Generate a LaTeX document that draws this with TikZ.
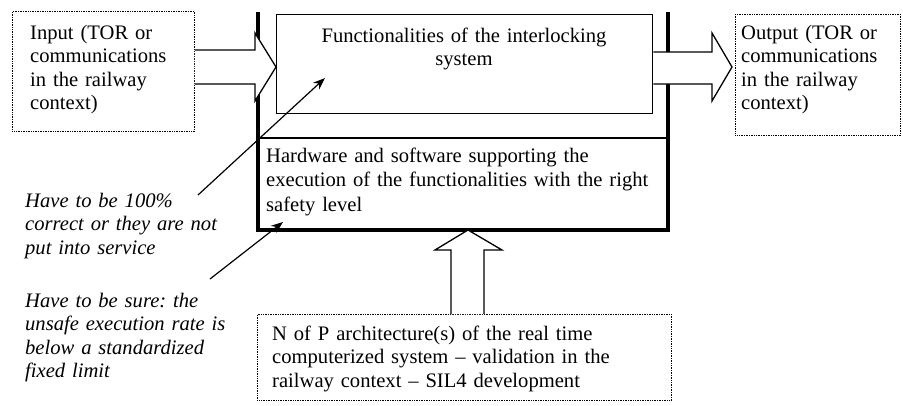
\documentclass[tikz,border=0pt]{standalone}
\usepackage{fontspec}
\setmainfont{Liberation Serif}
\usetikzlibrary{calc,arrows.meta}
\frenchspacing
\begin{document}
\begin{tikzpicture}[x=1pt,y=-1pt,
  dotbox/.style={draw, line width=0.8pt, dash pattern=on 0.8pt off 0.9pt, inner sep=0pt, anchor=north west},
  thinbox/.style={draw, line width=1.3pt, inner sep=0pt, anchor=north west},
  txt/.style={inner sep=0pt, anchor=base west, align=left, text width=430pt, font=\fontsize{20.6}{23.5}\selectfont},
  ann/.style={txt, font=\fontsize{20.6}{23.5}\selectfont\itshape},
  blockarrow/.style={draw, fill=white, line width=1.3pt, line join=miter},
  thickframe/.style={line width=3.5pt},
  thinline/.style={line width=1.3pt},
  pointer/.style={line width=1.2pt, -{Stealth[length=12pt,width=9pt]}}
]
\useasboundingbox (0,0) rectangle (903,405);

% thick frame of the system and separator
\draw[thickframe] (258,12) -- (258,230) -- (668,230) -- (668,12);
\draw[thinline] (258,138) -- (668,138);

% boxes
\node[dotbox, minimum width=182pt, minimum height=120pt] (inbox) at (12,11) {};
\node[thinbox, minimum width=376pt, minimum height=99pt] (func) at (276,14) {};
\node[dotbox, minimum width=165pt, minimum height=121pt] (outbox) at (735,14) {};
\node[dotbox, minimum width=414pt, minimum height=86pt] (npbox) at (257,314) {};

% block arrows
\draw[blockarrow] (inbox.east |- 0,50) -- (255,50) -- (255,33) -- (func.west |- 0,67)
   -- (255,101) -- (255,84) -- (inbox.east |- 0,84);
\draw[blockarrow] (func.east |- 0,52) -- (712,52) -- (712,33) -- ($(outbox.west |- 0,67)+(-3,0)$)
   -- (712,101) -- (712,84) -- (func.east |- 0,84);
\draw[blockarrow] (451,0 |- npbox.north) -- (451,250) -- (435,250) -- (468,230)
   -- (502,250) -- (484,250) -- (484,0 |- npbox.north);

% texts
\node[txt] (intext) at (30,39) {Input (TOR or\\communications\\in the railway\\context)};
\node[txt] (outtext) at (741,39) {Output (TOR or\\communications\\in the railway\\context)};
\node[txt, text width=376pt, align=center, anchor=base] (functext) at (464,42)
  {Functionalities of the interlocking\\system};
\node[txt, font=\fontsize{20.6}{24.5}\selectfont] (hwtext) at (266,162)
  {Hardware and software supporting the\\execution of the functionalities with the right\\safety level};
\node[txt] (nptext) at (272,340)
  {N of P architecture(s) of the real time\\computerized system -- validation in the\\railway context -- SIL4 development};
\node[ann] (ann1) at (25,207) {Have to be 100\%\\correct or they are not\\put into service};
\node[ann] (ann2) at (25,307) {Have to be sure: the\\unsafe execution rate is\\below a standardized\\fixed limit};

% pointers
\coordinate (t1) at (198,195);
\coordinate (h1) at (325,78);
\coordinate (t2) at (210,279);
\coordinate (h2) at (283,222);
\draw[pointer] (t1) -- (h1);
\draw[pointer] (t2) -- (h2);
\end{tikzpicture}
\end{document}
